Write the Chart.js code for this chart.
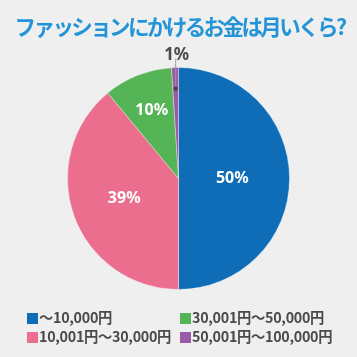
<!DOCTYPE html>
<html><head><meta charset="utf-8">
<script src="https://cdn.jsdelivr.net/npm/chart.js@4"></script>
<style>
html,body{margin:0;padding:0;background:#eeefee;}
#wrap{position:relative;width:357px;height:357px;overflow:hidden;background:#eeefee;}
#c{position:absolute;left:0;top:0;}
#title{position:absolute;left:1px;top:10px;width:357px;text-align:center;font-family:"Noto Sans CJK JP";font-weight:bold;font-size:21.5px;color:#2494d8;letter-spacing:-2.6px;white-space:nowrap;}
.lg{position:absolute;font-family:"Noto Sans CJK JP","Noto Sans";font-weight:bold;font-size:14.3px;color:#4a4a4a;white-space:nowrap;line-height:19px;letter-spacing:-0.3px;}
.sw{display:inline-block;width:11px;height:11px;vertical-align:-1px;margin-right:1px;}
</style></head>
<body><div id="wrap">
<canvas id="c" width="357" height="357"></canvas>
<div id="title"></div>
<div id="legend"></div>
</div>
<script>
const titleText = "ファッションにかけるお金は月いくら?";
const categories = ["〜10,000円","10,001円〜30,000円","30,001円〜50,000円","50,001円〜100,000円"];
const values = [50, 39, 10, 1];
const colors = ["#0f6db8","#eb6e8e","#55b455","#9a5aa8"];
const labelRadius = [0.485, 0.52, 0.655, 0];

document.getElementById('title').textContent = titleText;

// legend: two columns, column-major
const legendPos = [[27,307],[27,326],[180,307],[180,326]];
const lg = document.getElementById('legend');
categories.forEach((c,i)=>{
  const d = document.createElement('div');
  d.className='lg';
  d.style.left = legendPos[i][0]+'px';
  d.style.top = legendPos[i][1]+'px';
  const s = document.createElement('span');
  s.className='sw'; s.style.background = colors[i];
  d.appendChild(s);
  d.appendChild(document.createTextNode(c));
  lg.appendChild(d);
});

const labelPlugin = {
  id:'pctLabels',
  afterDatasetsDraw(chart){
    const ctx = chart.ctx;
    const meta = chart.getDatasetMeta(0);
    meta.data.forEach((arc,i)=>{
      const p = arc.getProps(['x','y','startAngle','endAngle','outerRadius'],true);
      const mid = (p.startAngle+p.endAngle)/2;
      const txt = values[i]+'%';
      ctx.save();
      ctx.font = 'bold 16px "Noto Sans"';
      ctx.textAlign='center'; ctx.textBaseline='middle';
      if (values[i] < 5) {
        const dx = p.x + Math.cos(mid)*p.outerRadius*0.81;
        const dy = p.y + Math.sin(mid)*p.outerRadius*0.81;
        const topY = p.y - p.outerRadius*1.08;
        ctx.strokeStyle='#9a9a9a'; ctx.lineWidth=1;
        ctx.beginPath(); ctx.moveTo(dx, dy); ctx.lineTo(dx, topY); ctx.stroke();
        ctx.fillStyle='#444';
        ctx.beginPath(); ctx.arc(dx, dy, 2.2, 0, Math.PI*2); ctx.fill();
        ctx.fillStyle='#4a4a4a';
        ctx.font = 'bold 17px "Noto Sans"';
        ctx.fillText(txt, dx+1, p.y - p.outerRadius*1.11);
      } else {
        const r = p.outerRadius*labelRadius[i];
        ctx.fillStyle='#ffffff';
        ctx.fillText(txt, p.x+Math.cos(mid)*r, p.y+Math.sin(mid)*r);
      }
      ctx.restore();
    });
  }
};

new Chart(document.getElementById('c'), {
  type:'pie',
  data:{ labels:categories, datasets:[{ data:values, backgroundColor:colors, borderColor:'rgba(255,255,255,0.35)', borderWidth:1 }]},
  options:{
    responsive:false, animation:false,
    layout:{padding:{top:67,bottom:67,left:67,right:67}},
    plugins:{legend:{display:false}, tooltip:{enabled:false}, title:{display:false}}
  },
  plugins:[labelPlugin]
});
</script>
</body></html>
